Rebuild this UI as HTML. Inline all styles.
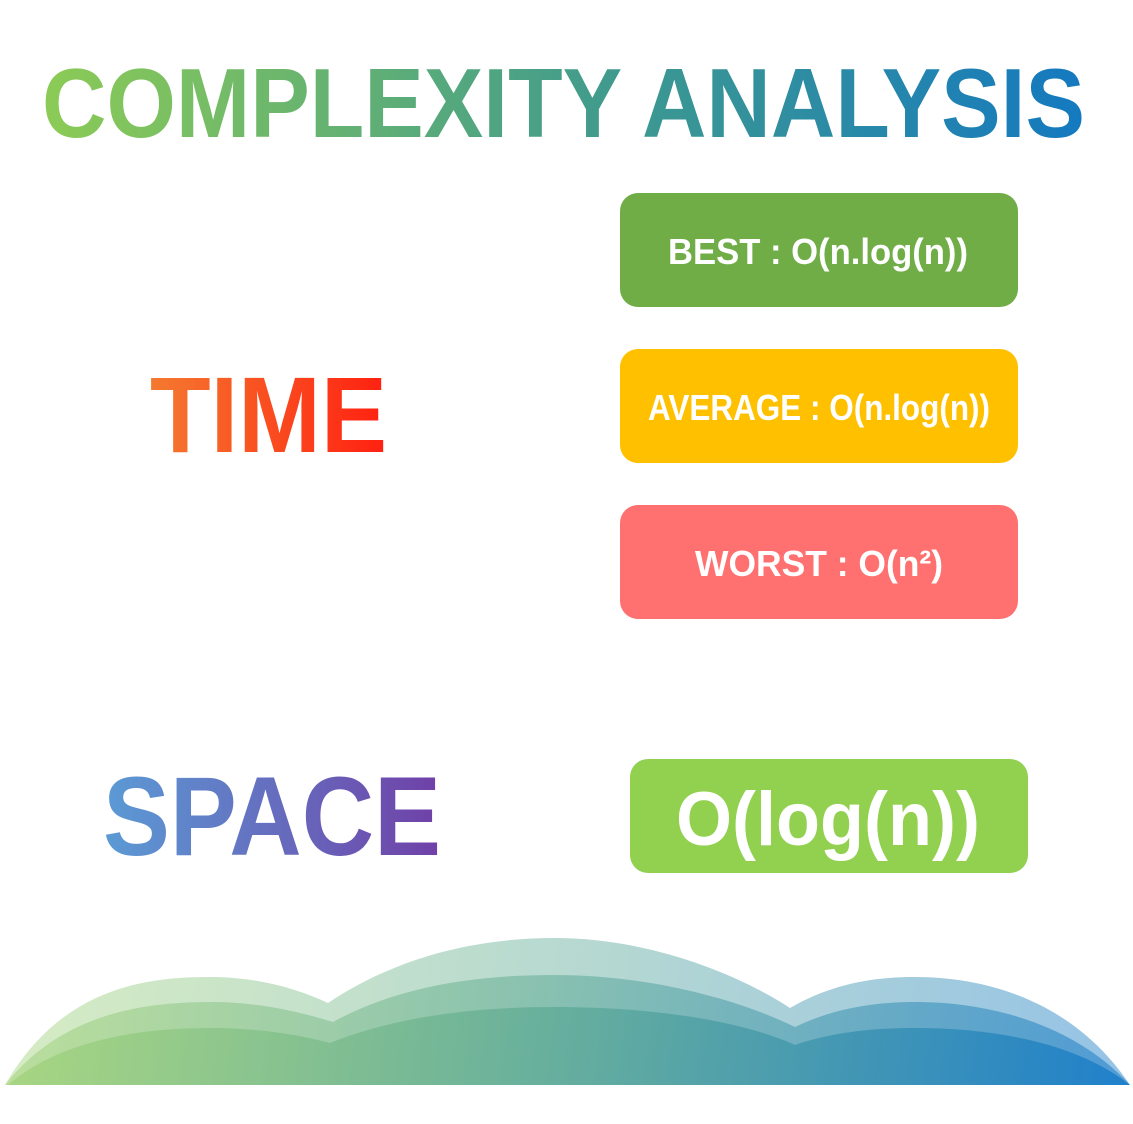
<!DOCTYPE html>
<html><head><meta charset="utf-8"><style>html,body{margin:0;padding:0;background:#fff}svg{display:block}</style></head>
<body>
<svg width="1133" height="1124" viewBox="0 0 1133 1124" xmlns="http://www.w3.org/2000/svg" font-family="Liberation Sans, sans-serif" font-weight="bold">
<defs>
<linearGradient id="tg" x1="42" y1="0" x2="1085" y2="0" gradientUnits="userSpaceOnUse"><stop offset="0" stop-color="#8CCB55"/><stop offset="0.55" stop-color="#3F9A8E"/><stop offset="1" stop-color="#1479C0"/></linearGradient>
<linearGradient id="timeg" x1="150" y1="0" x2="387" y2="0" gradientUnits="userSpaceOnUse"><stop offset="0" stop-color="#F47A30"/><stop offset="1" stop-color="#FF2010"/></linearGradient>
<linearGradient id="spg" x1="103" y1="0" x2="441" y2="0" gradientUnits="userSpaceOnUse"><stop offset="0" stop-color="#5B9BD5"/><stop offset="1" stop-color="#7040A8"/></linearGradient>
<linearGradient id="wg" x1="0" y1="940" x2="1133" y2="1085" gradientUnits="userSpaceOnUse"><stop offset="0" stop-color="#A6D57A"/><stop offset="0.5" stop-color="#5EAA98"/><stop offset="1" stop-color="#1479C8"/></linearGradient>
</defs>
<text x="42" y="137" font-size="98" fill="url(#tg)" textLength="1043" lengthAdjust="spacingAndGlyphs">COMPLEXITY ANALYSIS</text>
<text x="150" y="452" font-size="108" fill="url(#timeg)" textLength="237" lengthAdjust="spacingAndGlyphs">TIME</text>
<text x="103" y="855" font-size="112" fill="url(#spg)" textLength="338" lengthAdjust="spacingAndGlyphs">SPACE</text>
<rect x="620" y="193" width="398" height="114" rx="18" fill="#70AD47"/>
<rect x="620" y="349" width="398" height="114" rx="18" fill="#FFC000"/>
<rect x="620" y="505" width="398" height="114" rx="18" fill="#FF7171"/>
<rect x="630" y="759" width="398" height="114" rx="18" fill="#92D050"/>
<g fill="#fff" font-size="36">
<text x="668" y="264" textLength="300" lengthAdjust="spacingAndGlyphs">BEST : O(n.log(n))</text>
<text x="648" y="420" textLength="342" lengthAdjust="spacingAndGlyphs">AVERAGE : O(n.log(n))</text>
<text x="695" y="576" textLength="248" lengthAdjust="spacingAndGlyphs">WORST : O(n²)</text>
<text x="676" y="845" font-size="76" textLength="304" lengthAdjust="spacingAndGlyphs">O(log(n))</text>
</g>
<g fill="url(#wg)">
<path opacity="0.45" d="M5,1085 C60,990 140,977 210,977 C260,977 300,990 328,1003 C400,955 480,938 555,938 C650,938 740,975 790,1008 C830,985 870,977 915,977 C1000,977 1080,1010 1130,1085 Z"/>
<path opacity="0.55" d="M5,1085 C60,1015 140,1002 210,1002 C260,1002 300,1012 333,1022 C400,985 480,975 555,975 C650,975 740,1000 795,1027 C830,1010 870,1002 915,1002 C1000,1002 1080,1030 1130,1085 Z"/>
<path opacity="0.8" d="M8,1085 C60,1040 140,1028 210,1028 C260,1028 300,1035 330,1043 C400,1015 480,1007 555,1007 C650,1007 740,1020 795,1045 C830,1033 870,1028 915,1028 C1000,1028 1080,1045 1130,1085 Z"/>
</g>
</svg>
</body></html>
